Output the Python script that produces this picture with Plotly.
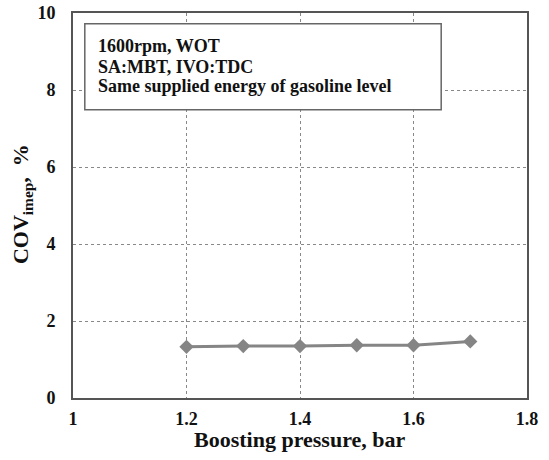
import plotly.graph_objects as go

boost_pressure = [1.2, 1.3, 1.4, 1.5, 1.6, 1.7]
cov_imep = [1.33, 1.35, 1.35, 1.37, 1.37, 1.47]
x_ticks = [1, 1.2, 1.4, 1.6, 1.8]
x_tick_labels = ["1", "1.2", "1.4", "1.6", "1.8"]
y_ticks = [0, 2, 4, 6, 8, 10]
info_lines = ["1600rpm, WOT", "SA:MBT, IVO:TDC", "Same supplied energy of gasoline level"]
info_line_y = [0.913, 0.861, 0.811]

font_family = "Liberation Serif, Times New Roman, serif"

fig = go.Figure()
fig.add_trace(go.Scatter(
    x=boost_pressure, y=cov_imep, mode="lines+markers",
    line=dict(color="#858585", width=3),
    marker=dict(symbol="diamond", size=11, color="#858585"),
    showlegend=False,
))

fig.add_shape(type="rect", xref="paper", yref="paper",
              x0=0.026, x1=0.811, y0=0.749, y1=0.972,
              line=dict(color="#666666", width=1.5), fillcolor="white", layer="above")
for line, yy in zip(info_lines, info_line_y):
    fig.add_annotation(xref="paper", yref="paper", x=0.0507, y=yy,
                       xanchor="left", yanchor="middle", align="left", showarrow=False,
                       text="<b>%s</b>" % line,
                       font=dict(family=font_family, size=18, color="#111111"))

fig.add_annotation(xref="paper", yref="paper", x=0.5, y=-0.109,
                   xanchor="center", yanchor="middle", showarrow=False,
                   text="<b>Boosting pressure, bar</b>",
                   font=dict(family=font_family, size=22, color="#111111"))
fig.add_annotation(xref="paper", yref="paper", x=-0.112, y=0.504,
                   xanchor="center", yanchor="middle", showarrow=False, textangle=-90,
                   text="<b>COV<sub>imep</sub>,  %</b>",
                   font=dict(family=font_family, size=22, color="#111111"))

fig.update_layout(
    width=549, height=460,
    margin=dict(l=73, r=22, t=13, b=62),
    plot_bgcolor="white", paper_bgcolor="white",
    font=dict(family=font_family, color="#111111"),
    xaxis=dict(range=[1, 1.8], tickvals=x_ticks, ticktext=["<b>%s</b>" % t for t in x_tick_labels],
               showgrid=True, gridcolor="#888888", griddash="dot", gridwidth=1,
               showline=True, linecolor="#555555", linewidth=2, mirror=True,
               ticks="", tickfont=dict(family=font_family, size=18, color="#111111"),
               ticklabelstandoff=3,
               automargin=False, zeroline=False),
    yaxis=dict(range=[0, 10], tickvals=y_ticks, ticktext=["<b>%d</b>" % t for t in y_ticks],
               showgrid=True, gridcolor="#888888", griddash="dot", gridwidth=1,
               showline=True, linecolor="#555555", linewidth=2, mirror=True,
               ticks="", tickfont=dict(family=font_family, size=18, color="#111111"),
               ticklabelstandoff=12,
               automargin=False, zeroline=False),
)

fig.write_html("out.html")
